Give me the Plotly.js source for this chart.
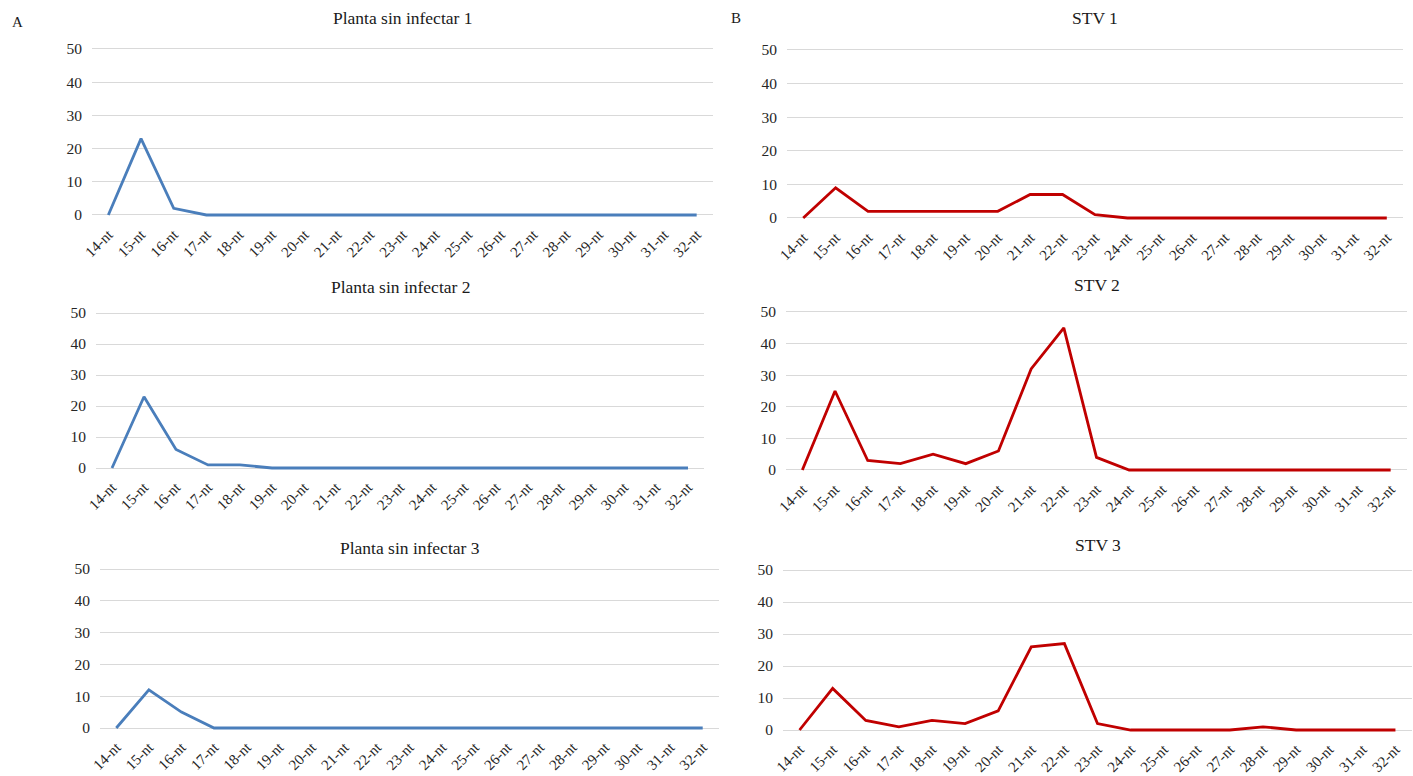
<!DOCTYPE html>
<html>
<head>
<meta charset="utf-8">
<script src="https://cdn.plot.ly/plotly-3.0.1.min.js"></script>
<style>html,body{margin:0;padding:0;background:#fff;}#chart{width:1413px;height:776px;}</style>
</head>
<body>
<div id="chart"></div>
<script>
const categories = ["14-nt","15-nt","16-nt","17-nt","18-nt","19-nt","20-nt","21-nt","22-nt","23-nt","24-nt","25-nt","26-nt","27-nt","28-nt","29-nt","30-nt","31-nt","32-nt"];
const planta1 = [0,23,2,0,0,0,0,0,0,0,0,0,0,0,0,0,0,0,0];
const planta2 = [0,23,6,1,1,0,0,0,0,0,0,0,0,0,0,0,0,0,0];
const planta3 = [0,12,5,0,0,0,0,0,0,0,0,0,0,0,0,0,0,0,0];
const stv1 = [0,9,2,2,2,2,2,7,7,1,0,0,0,0,0,0,0,0,0];
const stv2 = [0,25,3,2,5,2,6,32,45,4,0,0,0,0,0,0,0,0,0];
const stv3 = [0,13,3,1,3,2,6,26,27,2,0,0,0,0,1,0,0,0,0];
const titles = ["Planta sin infectar 1","Planta sin infectar 2","Planta sin infectar 3","STV 1","STV 2","STV 3"];
const yTicks = [0,10,20,30,40,50];

const W = 1413, H = 776;
const blue = "#4a7ebb", red = "#c00000";
// panel geometry in pixels: grid left, grid right, y of 0, y of 50, title y
const panels = [
  {x0:92, x1:713, y0:215, y50:49, ty:18, data:planta1, color:blue},
  {x0:96, x1:704, y0:468, y50:313, ty:287, data:planta2, color:blue},
  {x0:100, x1:719, y0:728, y50:569, ty:548, data:planta3, color:blue},
  {x0:787, x1:1403, y0:218, y50:50, ty:18, data:stv1, color:red},
  {x0:786, x1:1407, y0:470, y50:312, ty:285, data:stv2, color:red},
  {x0:783, x1:1412, y0:730, y50:570, ty:545, data:stv3, color:red}
];
const font = "Liberation Serif, Times New Roman, serif";
const traces = [];
const layout = {
  width: W, height: H,
  margin: {l:0, r:0, t:0, b:0},
  paper_bgcolor: "#fff", plot_bgcolor: "#fff",
  showlegend: false,
  font: {family: font, size: 14, color: "#262626"},
  annotations: []
};
const pad = 1.2;
panels.forEach((p, i) => {
  const n = i + 1;
  const xa = n === 1 ? "xaxis" : "xaxis" + n;
  const ya = n === 1 ? "yaxis" : "yaxis" + n;
  traces.push({
    x: categories, y: p.data, type: "scatter", mode: "lines",
    line: {color: p.color, width: 2.8},
    xaxis: "x" + (n === 1 ? "" : n), yaxis: "y" + (n === 1 ? "" : n),
    hoverinfo: "x+y"
  });
  const ppu = (p.y0 - p.y50) / 50;
  const bot = p.y0 + pad * ppu, top = p.y50 - pad * ppu;
  layout[xa] = {
    domain: [p.x0 / W, p.x1 / W],
    anchor: "y" + (n === 1 ? "" : n),
    type: "category", range: [-0.5, 18.5],
    showgrid: false, zeroline: false, showline: false,
    ticks: "", tickangle: -45,
    ticklabelstandoff: 3,
    tickfont: {family: font, size: 15, color: "#262626"},
    fixedrange: true
  };
  layout[ya] = {
    domain: [1 - bot / H, 1 - top / H],
    anchor: "x" + (n === 1 ? "" : n),
    range: [-pad, 50 + pad],
    tickvals: yTicks, ticktext: yTicks.map(String),
    showgrid: true, gridcolor: "#d9d9d9", gridwidth: 1.3,
    zeroline: false, showline: false, ticks: "",
    ticklabelstandoff: 9,
    tickfont: {family: font, size: 15.5, color: "#262626"},
    fixedrange: true
  };
  layout.annotations.push({
    text: titles[i], xref: "paper", yref: "paper",
    x: ((p.x0 + p.x1) / 2) / W, y: 1 - p.ty / H,
    xanchor: "center", yanchor: "middle", showarrow: false,
    font: {family: font, size: 17.5, color: "#1a1a1a"}
  });
});
layout.annotations.push({text: "A", xref: "paper", yref: "paper", x: 10 / W, y: 1 - 22 / H, xanchor: "left", yanchor: "middle", showarrow: false, font: {family: font, size: 15, color: "#1a1a1a"}});
layout.annotations.push({text: "B", xref: "paper", yref: "paper", x: 729 / W, y: 1 - 18 / H, xanchor: "left", yanchor: "middle", showarrow: false, font: {family: font, size: 15, color: "#1a1a1a"}});

Plotly.newPlot("chart", traces, layout, {displayModeBar: false, staticPlot: false});
</script>
</body>
</html>
